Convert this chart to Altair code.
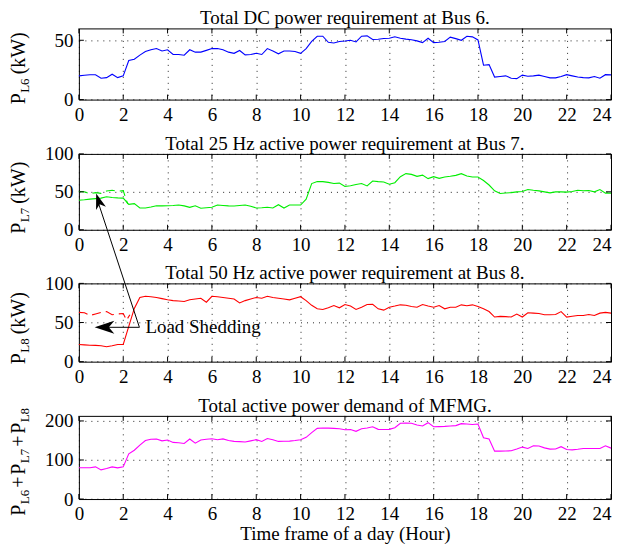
import altair as alt
import pandas as pd

FONT = "Liberation Serif"

HOURS = [0, 0.25, 0.5, 0.75, 1, 1.25, 1.5, 1.75, 2, 2.25, 2.5, 2.75, 3, 3.25, 3.5, 3.75,
         4, 4.25, 4.5, 4.75, 5, 5.25, 5.5, 5.75, 6, 6.25, 6.5, 6.75, 7, 7.25, 7.5, 7.75,
         8, 8.25, 8.5, 8.75, 9, 9.25, 9.5, 9.75, 10, 10.25, 10.5, 10.75, 11, 11.25, 11.5, 11.75,
         12, 12.25, 12.5, 12.75, 13, 13.25, 13.5, 13.75, 14, 14.25, 14.5, 14.75, 15, 15.25, 15.5, 15.75,
         16, 16.25, 16.5, 16.75, 17, 17.25, 17.5, 17.75, 18, 18.25, 18.5, 18.75, 19, 19.25, 19.5, 19.75,
         20, 20.25, 20.5, 20.75, 21, 21.25, 21.5, 21.75, 22, 22.25, 22.5, 22.75, 23, 23.25, 23.5, 23.75, 24]

P_L6 = [20, 20.5, 21, 21, 18, 18.5, 21.4, 18.5, 20, 33, 34, 37.5, 40.5, 42, 43, 41,
        42, 38, 38, 37.4, 42, 40, 40, 41.5, 43, 43, 42, 40, 39, 41.4, 37.7, 38,
        39, 38, 43, 41, 38.6, 41, 41, 40.6, 39, 43, 49, 53.4, 53.4, 48.3, 47.7, 49,
        49.4, 50, 48.6, 53.4, 53.7, 50.6, 50.9, 51.5, 51.7, 52.9, 51.7, 51, 50.5, 49.5, 48, 51.7,
        48, 48.3, 49, 52.6, 51.4, 50, 53.4, 52.9, 50.3, 29, 29.5, 19, 19.5, 20, 18, 17.7,
        20.6, 19.7, 20, 20.6, 19.5, 18.3, 18.3, 19.5, 21, 20, 19, 18.5, 18.3, 19.4, 18, 21, 20.8]

P_L7 = [39, 39.5, 40.4, 41, 41.7, 43.5, 42.6, 42, 41.7, 33.5, 34.5, 28.7, 28.7, 30, 31.7, 31.5,
        31.7, 32, 32.6, 31.5, 29.6, 31.7, 28.3, 29, 29.6, 32.6, 32, 31.5, 31.3, 32, 32.6, 31,
        28.7, 29, 29.6, 28.7, 33, 28.7, 32.6, 32.6, 32.6, 40.4, 60.9, 63.5, 63.5, 62.5, 60.9, 61.5,
        57, 58, 59.6, 60.9, 57.8, 64.3, 63.5, 63, 60, 62, 70, 74, 73, 70.4, 72, 67.4,
        70, 67.8, 69.6, 70.5, 71.7, 74, 70.9, 69.6, 69.6, 65, 59, 51.3, 47.8, 48.5, 49, 50,
        50.4, 53, 52, 51.3, 50, 48.7, 50, 50, 49.6, 50.5, 52, 51.5, 51.7, 50, 53, 48.3, 48.3]

P_L8 = [22, 21.5, 21, 20.8, 20.3, 19, 20.3, 22, 22, 45, 68, 82, 83.5, 83, 82, 80.5,
        79, 78, 77.5, 76.8, 79, 80, 81, 76, 83.5, 83, 82, 81, 80, 75, 78, 80,
        82, 81, 83.5, 82, 81, 80, 79, 81, 83, 78, 72, 67.5, 66.7, 69, 71.7, 68.8,
        73, 71, 66.7, 69.6, 73, 73.4, 67.5, 65.8, 69.6, 71, 72.6, 72, 70.5, 69.6, 73, 71,
        69.6, 71.7, 67.5, 69.6, 69.6, 72.6, 71.5, 72.6, 70.5, 67.5, 64, 57, 57.8, 57.5, 57, 60.8,
        57, 62.4, 62, 61.6, 60, 60, 60.3, 64, 57, 58, 59, 59, 60.3, 59, 62, 62.9, 62]

P_TOTAL = [80, 80, 80, 82.4, 74.7, 78, 82.4, 79.8, 82.4, 115.8, 125, 138, 150, 153, 153.6, 149,
           151, 145, 144, 142.4, 153.6, 143, 151, 153, 154.4, 152, 154, 150, 147.6, 147, 146, 149,
           152, 147.6, 155, 152, 147.6, 148, 148.4, 150, 152, 158, 170, 181, 182, 181.5, 181, 180,
           177.6, 178, 173.3, 180, 182, 185, 178.5, 178, 178.5, 182.8, 194, 194.5, 194, 189.6, 187, 195.6,
           185, 185.5, 186, 187, 188, 193, 192, 191, 192, 157, 153.6, 122.7, 122.7, 123, 123.6, 128,
           133, 129.6, 136.4, 136, 131, 127.8, 128, 134, 127, 126, 127.5, 129.6, 129.6, 129.6, 129.6, 136.4, 130.4]

# demand before load shedding (dashed segments)
T_L7_PRE = [0, 0.25, 0.5, 0.75, 1, 1.25, 1.5, 1.75, 2, 2.2]
P_L7_PRE = [50.5, 50, 47.5, 49, 48, 51, 52, 51, 51.5, 34]
T_L8_PRE = [0, 0.25, 0.5, 0.75, 1, 1.25, 1.5, 1.75, 2, 2.15, 2.3]
P_L8_PRE = [63, 62.5, 59, 61, 63, 64, 60, 61, 61.5, 53, 60]

X_TICKS = [0, 2, 4, 6, 8, 10, 12, 14, 16, 18, 20, 22, 24]

TITLES = ["Total DC power requirement at Bus 6.",
          "Total 25 Hz active power requirement at Bus 7.",
          "Total 50 Hz active power requirement at Bus 8.",
          "Total active power demand of MFMG."]

# annotation anchor points (data units of the Bus 8 panel)
SHED_FROM = (2.73, 43.9)
SHED_LEFT_TIP = (0.71, 43.9)
SHED_UP_TIP = (0.78, 214.8)
SHED_TEXT = (3.0, 43.9)

W = 533
ARROW = "M0,0 L0.6,1.8 L0,1.3 L-0.6,1.8 Z"
DUMMY = alt.Data(values=[{}])


def ylabel_layers(parts, ybottom):
    layers = []
    for txt, dx, dy, fs in parts:
        layers.append(
            alt.Chart(DUMMY).mark_text(text=txt, angle=270, align="left", baseline="alphabetic",
                                       font=FONT, fontSize=fs, dx=dx, dy=dy, color="black")
            .encode(x=alt.value(-53.8), y=alt.value(ybottom))
        )
    return layers


def panel(series, ymax, yticks, title, H, ylab, ybottom, xtitle=None, extra=None):
    xs = alt.Scale(domain=[0, 24], nice=False, zero=False)
    ys = alt.Scale(domain=[0, ymax], nice=False, zero=False)
    lab_align = alt.condition("datum.value == 24", alt.value("right"), alt.value("center"))
    if xtitle:
        xaxis = alt.Axis(values=X_TICKS, title=xtitle, labelFlush=False, labelAlign=lab_align)
    else:
        xaxis = alt.Axis(values=X_TICKS, title=None, labelFlush=False, labelAlign=lab_align)
    x_enc = alt.X("t:Q", scale=xs, axis=xaxis)
    y_enc = alt.Y("v:Q", scale=ys, axis=alt.Axis(values=yticks, title=None, labelFlush=False))

    layers = []
    for t, v, color, dash in series:
        df = pd.DataFrame({"t": t, "v": v})
        m = alt.Chart(df).mark_line(color=color, strokeWidth=1.1, strokeDash=dash) if dash else \
            alt.Chart(df).mark_line(color=color, strokeWidth=1.1)
        layers.append(m.encode(x=x_enc, y=y_enc))

    xt = pd.DataFrame({"t": X_TICKS})
    yt = pd.DataFrame({"v": yticks})
    layers.append(alt.Chart(xt).mark_rule(color="black", strokeWidth=1)
                  .encode(x=x_enc, y=alt.value(H), y2=alt.value(H - 5)))
    layers.append(alt.Chart(xt).mark_rule(color="black", strokeWidth=1)
                  .encode(x=x_enc, y=alt.value(0), y2=alt.value(5)))
    layers.append(alt.Chart(yt).mark_rule(color="black", strokeWidth=1)
                  .encode(y=y_enc, x=alt.value(0), x2=alt.value(5)))
    layers.append(alt.Chart(yt).mark_rule(color="black", strokeWidth=1)
                  .encode(y=y_enc, x=alt.value(W), x2=alt.value(W - 5)))
    if extra:
        layers.extend(extra(x_enc, y_enc))
    layers.extend(ylabel_layers(ylab, ybottom))
    # panel title as a text mark just above the frame
    layers.append(
        alt.Chart(DUMMY).mark_text(text=title, align="center", baseline="alphabetic",
                                   font=FONT, fontSize=19, color="black")
        .encode(x=alt.value(W / 2), y=alt.value(-4))
    )
    return alt.layer(*layers).properties(width=W, height=H)


def shed_annotations(x_enc, y_enc):
    x2 = alt.X2("t2:Q")
    y2 = alt.Y2("v2:Q")
    lines = pd.DataFrame({
        "t": [SHED_FROM[0], SHED_FROM[0]], "v": [SHED_FROM[1], SHED_FROM[1]],
        "t2": [SHED_LEFT_TIP[0] + 0.4, SHED_UP_TIP[0] + 0.1], "v2": [SHED_LEFT_TIP[1], SHED_UP_TIP[1] - 12],
    })
    left = pd.DataFrame({"t": [SHED_LEFT_TIP[0]], "v": [SHED_LEFT_TIP[1]]})
    up = pd.DataFrame({"t": [SHED_UP_TIP[0]], "v": [SHED_UP_TIP[1]]})
    txt = pd.DataFrame({"t": [SHED_TEXT[0]], "v": [SHED_TEXT[1]], "label": ["Load Shedding"]})
    return [
        alt.Chart(lines).mark_rule(color="black", strokeWidth=1).encode(x=x_enc, y=y_enc, x2=x2, y2=y2),
        alt.Chart(left).mark_point(shape=ARROW, filled=True, color="black", opacity=1, size=480,
                                   angle=270, strokeWidth=0).encode(x=x_enc, y=y_enc),
        alt.Chart(up).mark_point(shape=ARROW, filled=True, color="black", opacity=1, size=300,
                                 angle=342, strokeWidth=0).encode(x=x_enc, y=y_enc),
        alt.Chart(txt).mark_text(align="left", baseline="middle", font=FONT, fontSize=19, color="black")
        .encode(x=x_enc, y=y_enc, text="label:N"),
    ]


lab6 = [("P", 0, 0, 20), ("L6", 11.5, 3.5, 13), ("(kW)", 30, 0, 20)]
lab7 = [("P", 0, 0, 20), ("L7", 11.5, 3.5, 13), ("(kW)", 30, 0, 20)]
lab8 = [("P", 0, 0, 20), ("L8", 11.5, 3.5, 13), ("(kW)", 30, 0, 20)]
labT = [("P", 0, 0, 20), ("L6", 11.5, 3.5, 13), ("+", 28, 0, 20), ("P", 41, 0, 20), ("L7", 52.5, 3.5, 13),
        ("+", 69, 0, 20), ("P", 82, 0, 20), ("L8", 93.5, 3.5, 13)]

p1 = panel([(HOURS, P_L6, "#0000ff", None)], 60, [0, 50], TITLES[0], 71.3, lab6, 76)
p2 = panel([(HOURS, P_L7, "#00ee00", None), (T_L7_PRE, P_L7_PRE, "#00ee00", [9, 5])], 100, [0, 50, 100],
           TITLES[1], 76, lab7, 80)
p3 = panel([(HOURS, P_L8, "#ff0000", None), (T_L8_PRE, P_L8_PRE, "#ff0000", [9, 5])], 100, [0, 50, 100],
           TITLES[2], 78.4, lab8, 81, extra=shed_annotations)
p4 = panel([(HOURS, P_TOTAL, "#ff00ff", None)], 213, [0, 100, 200],
           TITLES[3], 83.3, labT, 100, xtitle="Time frame of a day (Hour)")

chart = alt.vconcat(p1, p2, p3, p4, spacing=53.7, bounds="flush").properties(
    padding={"left": 0, "top": 0, "right": 0, "bottom": 0}
).configure_view(stroke="black", strokeWidth=1).configure_axis(
    labelFont=FONT, labelFontSize=19, labelColor="black",
    titleFont=FONT, titleFontSize=19, titleFontWeight="normal", titleColor="black",
    domain=False, ticks=False, tickSize=0, grid=True, gridColor="black", gridDash=[1, 5],
    gridOpacity=0.85, gridWidth=1, labelPadding=6,
).configure_axisX(labelPadding=6, titlePadding=1)

chart.save("out.html", embed_options={"renderer": "svg", "actions": False})
